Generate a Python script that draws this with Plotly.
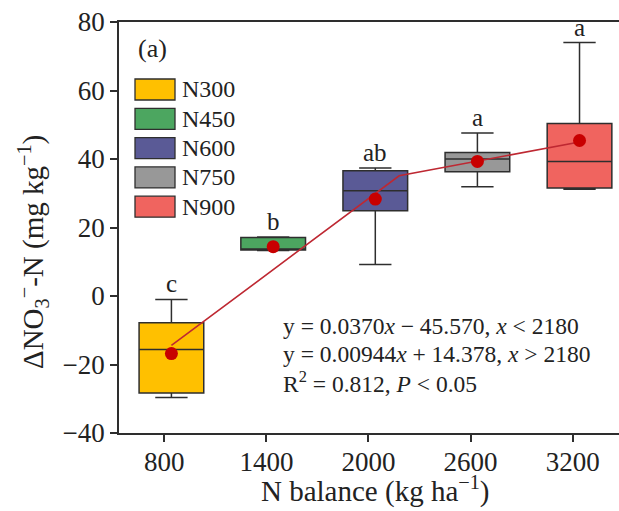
import plotly.graph_objects as go

# Treatments and their N balance positions (kg ha-1)
treatments = ["N300", "N450", "N600", "N750", "N900"]
n_balance = [842, 1440, 2040, 2640, 3240]

# Box statistics of delta NO3--N (mg kg-1)
lower_whisker = [-29.6, 13.3, 9.2, 31.9, 31.2]
q1 = [-28.3, 13.4, 24.9, 36.3, 31.5]
median = [-15.6, 13.7, 30.7, 40.0, 39.3]
q3 = [-7.8, 17.1, 36.6, 41.9, 50.4]
upper_whisker = [-1.0, 17.2, 37.4, 47.6, 74.0]
means = [-16.8, 14.4, 28.3, 39.3, 45.4]
letters = ["c", "b", "ab", "a", "a"]

# Piecewise regression: y = a*x + b on each side of the breakpoint
breakpoint = 2180
slopes = [0.0370, 0.00944]
intercepts = [-45.570, 14.378]

fills = ["#FFC000", "#4CA660", "#5A5A96", "#989898", "#F0645F"]
edge = "#2E2E2E"
ink = "#222"
serif = "Liberation Serif, Times New Roman, serif"

# Plot-area geometry in pixels (used to place the legend and labels)
W, H = 619, 511
L, T, R, B = 119, 22, 0, 78
PW, PH = W - L - R, H - T - B


def px_x(px):
    return (px - L) / PW


def px_y(py):
    return (T + PH - py) / PH


fig = go.Figure()

for i, name in enumerate(treatments):
    fig.add_trace(go.Box(
        x=[n_balance[i]], q1=[q1[i]], median=[median[i]], q3=[q3[i]],
        lowerfence=[lower_whisker[i]], upperfence=[upper_whisker[i]],
        name=name, width=380, whiskerwidth=0.5,
        fillcolor=fills[i], line=dict(color=edge, width=1.5),
        showlegend=False, hoverinfo="skip",
    ))

# Fitted piecewise line from first to last treatment
fit_x = [n_balance[0], breakpoint, n_balance[-1]]
fit_y = [
    slopes[0] * fit_x[0] + intercepts[0],
    slopes[0] * fit_x[1] + intercepts[0],
    slopes[1] * fit_x[2] + intercepts[1],
]
fig.add_trace(go.Scatter(
    x=fit_x, y=fit_y, mode="lines",
    line=dict(color="#BE2832", width=1.6), showlegend=False, hoverinfo="skip",
))

# Treatment means
fig.add_trace(go.Scatter(
    x=n_balance, y=means, mode="markers",
    marker=dict(color="#C80000", size=13, line=dict(width=0)),
    showlegend=False, hoverinfo="skip",
))

annotations = []
shapes = []

# Significance letters above the whiskers
for xi, top, lab in zip(n_balance, upper_whisker, letters):
    annotations.append(dict(
        x=xi, y=top, text=lab, showarrow=False, xanchor="center",
        yanchor="bottom", yshift=0, font=dict(family=serif, size=25, color=ink),
    ))

# Panel tag
annotations.append(dict(
    xref="paper", yref="paper", x=px_x(136), y=px_y(48), text="(a)",
    showarrow=False, xanchor="left", yanchor="middle",
    font=dict(family=serif, size=26, color=ink),
))

# Hand-drawn legend with wide swatches
for i, name in enumerate(treatments):
    cy = 89.5 + i * 29.3
    shapes.append(dict(
        type="rect", xref="paper", yref="paper",
        x0=px_x(135), x1=px_x(175), y0=px_y(cy + 10.5), y1=px_y(cy - 10.5),
        fillcolor=fills[i], line=dict(color=edge, width=1.3),
    ))
    annotations.append(dict(
        xref="paper", yref="paper", x=px_x(180), y=px_y(cy), text=name,
        showarrow=False, xanchor="left", yanchor="middle",
        font=dict(family=serif, size=24, color=ink),
    ))

# Regression equations
eq_lines = [
    "y = 0.0370<i>x</i> − 45.570, <i>x</i> &lt; 2180",
    "y = 0.00944<i>x</i> + 14.378, <i>x</i> &gt; 2180",
    "R<sup>2</sup> = 0.812, <i>P</i> &lt; 0.05",
]
for k, line in enumerate(eq_lines):
    annotations.append(dict(
        xref="paper", yref="paper", x=px_x(281), y=px_y(326 + k * 27.8),
        text=line, showarrow=False, xanchor="left", yanchor="middle",
        font=dict(family=serif, size=23.5, color=ink),
    ))

# Axis titles
annotations.append(dict(
    xref="paper", yref="paper", x=px_x(33), y=px_y(252),
    text="ΔNO<sub>3</sub><sup>−</sup>-N (mg kg<sup>−1</sup>)",
    textangle=-90, showarrow=False, xanchor="center", yanchor="middle",
    font=dict(family=serif, size=29, color=ink),
))
annotations.append(dict(
    xref="paper", yref="paper", x=px_x(375), y=px_y(489),
    text="N balance (kg ha<sup>−1</sup>)",
    showarrow=False, xanchor="center", yanchor="middle",
    font=dict(family=serif, size=29, color=ink),
))

fig.update_layout(
    width=W, height=H,
    margin=dict(l=L, r=R, t=T, b=B, pad=0),
    paper_bgcolor="white", plot_bgcolor="white",
    boxmode="overlay",
    font=dict(family=serif, size=26, color=ink),
    shapes=shapes, annotations=annotations,
    xaxis=dict(
        range=[534, 3472], tickvals=[800, 1400, 2000, 2600, 3200],
        ticks="outside", ticklen=7, tickwidth=1.5, tickcolor=edge,
        showline=True, linecolor=edge, linewidth=1.5, mirror=True,
        showgrid=False, zeroline=False, ticklabelstandoff=-3,
        tickfont=dict(family=serif, size=27, color=ink),
    ),
    yaxis=dict(
        range=[-40, 80], tickvals=[-40, -20, 0, 20, 40, 60, 80],
        ticks="outside", ticklen=7, tickwidth=1.5, tickcolor=edge,
        showline=True, linecolor=edge, linewidth=1.5, mirror=False,
        showgrid=False, zeroline=False,
        tickfont=dict(family=serif, size=27, color=ink),
    ),
)

fig.write_html("out.html")
